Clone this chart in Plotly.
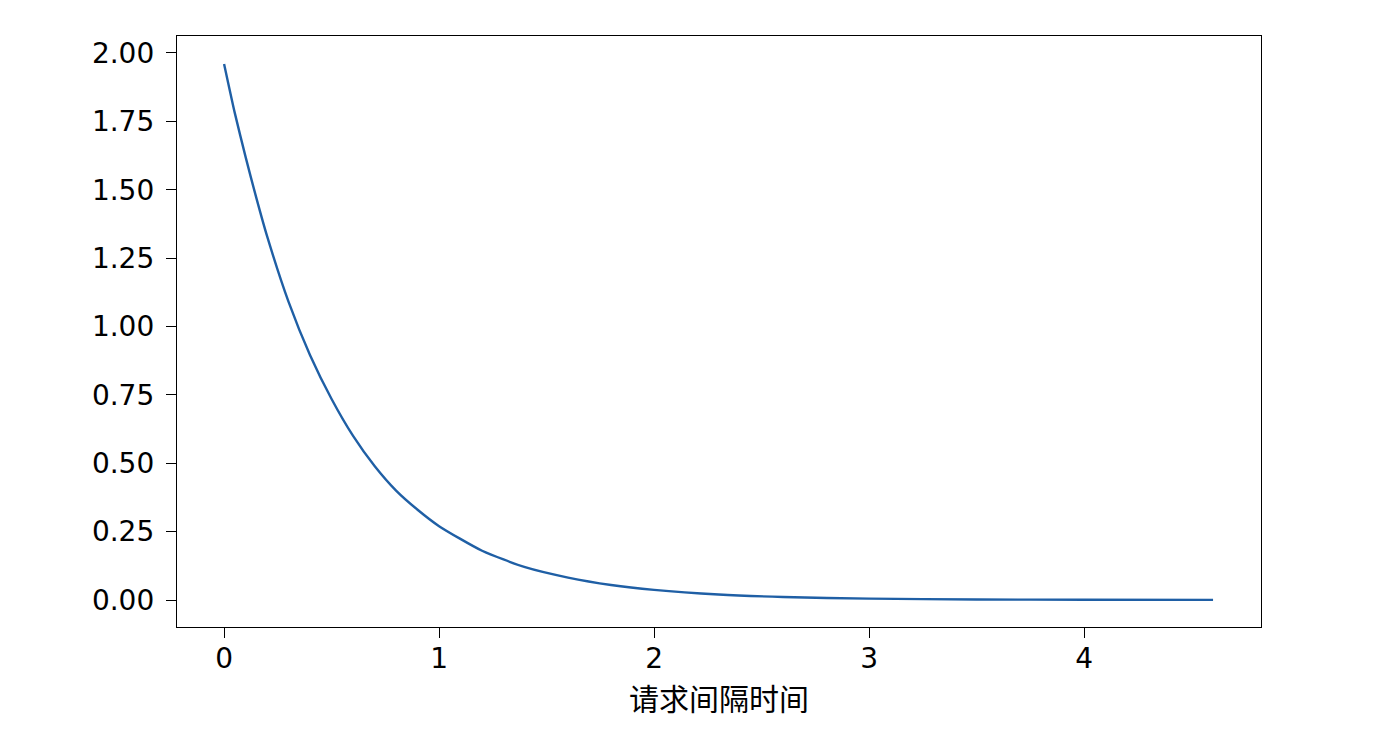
import plotly.graph_objects as go

# Values
interval_time = [0.0, 0.05, 0.1, 0.15, 0.2, 0.3, 0.4, 0.5, 0.6, 0.7, 0.8, 0.9, 1.0,
                 1.2, 1.4, 1.6, 1.8, 2.0, 2.3, 2.6, 3.0, 3.5, 4.0, 4.6]
density = [1.96, 1.78, 1.62, 1.47, 1.33, 1.09, 0.895, 0.735, 0.60, 0.49, 0.40, 0.33, 0.27,
           0.18, 0.12, 0.082, 0.055, 0.037, 0.020, 0.011, 0.005, 0.002, 0.001, 0.0003]

y_ticks = [0.0, 0.25, 0.5, 0.75, 1.0, 1.25, 1.5, 1.75, 2.0]
x_ticks = [0, 1, 2, 3, 4]

fig = go.Figure()
fig.add_trace(
    go.Scatter(
        x=interval_time,
        y=density,
        mode="lines",
        line=dict(color="#1f5fa5", width=2.4, shape="spline", smoothing=0.6),
        showlegend=False,
    )
)

axis_common = dict(
    showline=True,
    linecolor="black",
    linewidth=1.3,
    mirror=True,
    ticks="outside",
    ticklen=10,
    tickwidth=1.3,
    tickcolor="black",
    showgrid=False,
    zeroline=False,
    tickfont=dict(family="DejaVu Sans", size=28, color="black"),
)

fig.update_layout(
    width=1399,
    height=752,
    paper_bgcolor="white",
    plot_bgcolor="white",
    margin=dict(l=169, r=146, t=28, b=133),
    xaxis=dict(
        range=[-0.219, 4.823],
        tickvals=x_ticks,
        ticktext=[str(v) for v in x_ticks],
        ticklabelstandoff=-4,
        title=dict(
            text="请求间隔时间",
            font=dict(family="Noto Sans CJK SC", size=30, color="black"),
            standoff=6,
        ),
        **axis_common,
    ),
    yaxis=dict(
        range=[-0.0987, 2.062],
        tickvals=y_ticks,
        ticktext=[f"{v:.2f}" for v in y_ticks],
        ticklabelstandoff=6,
        **axis_common,
    ),
)

fig.write_html("out.html")
